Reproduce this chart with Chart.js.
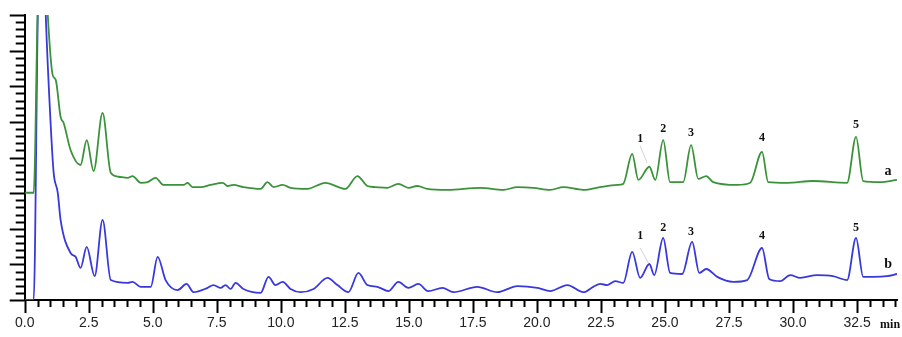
<!DOCTYPE html>
<html>
<head>
<meta charset="utf-8">
<script src="https://cdn.jsdelivr.net/npm/chart.js@4/dist/chart.umd.min.js"></script>
<style>
  html, body { margin: 0; padding: 0; background: #fff; }
  #wrap { width: 902px; height: 337px; }
</style>
</head>
<body>
<div id="wrap"><canvas id="chart" width="902" height="337"></canvas></div>
<script>
// retention time (min) and detector response for trace a (green)
const greenTimes = [0, 0.35, 0.50, 0.65, 0.90, 1.09, 1.21, 1.40, 1.52, 1.79, 2.18, 2.42, 2.69, 3.04, 3.36, 3.67, 4.02, 4.21, 4.53, 4.80,
  5.11, 5.42, 6.20, 6.36, 6.55, 6.87, 7.26, 7.73, 7.92, 8.15, 8.54, 9.21, 9.48, 9.72, 10.07, 10.38, 11.04, 11.74, 12.52, 12.99,
  13.38, 13.69, 14.16, 14.59, 14.98, 15.33, 15.72, 16.50, 17.79, 18.69, 19.24, 19.86, 20.52, 21.03, 21.81, 22.47, 23.14, 23.37, 23.72, 23.96,
  24.39, 24.62, 24.93, 25.20, 25.71, 26.02, 26.30, 26.61, 26.88, 27.82, 28.33, 28.79, 29.03, 29.77, 30.78, 32.11, 32.46, 32.74, 33.40, 34.06];
const greenValues = [3.01, 3.01, 8.0, 12.0, 8.0, 6.32, 6.18, 5.14, 4.97, 4.21, 3.79, 4.49, 3.62, 5.25, 3.57, 3.46, 3.43, 3.48, 3.29, 3.31,
  3.43, 3.23, 3.23, 3.29, 3.17, 3.17, 3.23, 3.29, 3.20, 3.23, 3.17, 3.12, 3.31, 3.17, 3.23, 3.15, 3.12, 3.29, 3.12, 3.48,
  3.20, 3.17, 3.15, 3.26, 3.15, 3.20, 3.12, 3.09, 3.15, 3.09, 3.17, 3.15, 3.09, 3.17, 3.09, 3.17, 3.23, 3.26, 4.10, 3.37,
  3.74, 3.37, 4.49, 3.31, 3.31, 4.35, 3.40, 3.48, 3.31, 3.23, 3.29, 4.16, 3.31, 3.29, 3.34, 3.29, 4.58, 3.34, 3.31, 3.37];

// trace b (blue)
const blueTimes = [0, 0.35, 0.51, 0.65, 0.82, 1.01, 1.13, 1.29, 1.40, 1.79, 1.99, 2.18, 2.42, 2.73, 3.04, 3.36, 4.02, 4.21, 4.53, 4.92,
  5.19, 5.50, 5.97, 6.32, 6.59, 7.14, 7.37, 7.65, 7.84, 8.04, 8.23, 8.54, 9.21, 9.52, 9.79, 10.07, 10.38, 10.77, 11.28, 11.82,
  12.21, 12.64, 13.03, 13.38, 13.77, 14.20, 14.59, 14.98, 15.37, 15.76, 16.31, 16.74, 17.67, 18.45, 19.24, 20.02, 20.52, 21.19, 21.81, 22.20,
  22.47, 22.75, 23.06, 23.37, 23.72, 24.03, 24.39, 24.58, 24.93, 25.20, 25.67, 26.06, 26.34, 26.61, 27.04, 27.66, 28.21, 28.79, 29.07, 29.50,
  29.89, 30.28, 30.94, 31.56, 32.11, 32.46, 32.74, 33.13, 33.67, 34.06];
const blueValues = [0, 0, 8.0, 12.0, 8.0, 4.97, 3.57, 3.01, 2.25, 1.32, 1.21, 0.90, 1.49, 0.67, 2.25, 0.56, 0.48, 0.51, 0.37, 0.37,
  1.21, 0.56, 0.28, 0.45, 0.22, 0.34, 0.42, 0.34, 0.42, 0.31, 0.48, 0.31, 0.20, 0.65, 0.42, 0.51, 0.31, 0.22, 0.31, 0.62,
  0.42, 0.22, 0.76, 0.42, 0.37, 0.25, 0.51, 0.34, 0.45, 0.25, 0.34, 0.22, 0.37, 0.22, 0.39, 0.34, 0.25, 0.42, 0.22, 0.37,
  0.45, 0.42, 0.53, 0.48, 1.35, 0.62, 1.01, 0.70, 1.74, 0.76, 0.73, 1.63, 0.76, 0.87, 0.65, 0.51, 0.56, 1.46, 0.59, 0.53,
  0.70, 0.62, 0.70, 0.67, 0.56, 1.74, 0.65, 0.65, 0.67, 0.73];

// axis ticks
const xTickValues = [0, 2.5, 5, 7.5, 10, 12.5, 15, 17.5, 20, 22.5, 25, 27.5, 30, 32.5];
const xTickLabels = ['0.0', '2.5', '5.0', '7.5', '10.0', '12.5', '15.0', '17.5', '20.0', '22.5', '25.0', '27.5', '30.0', '32.5'];
const xMax = 34.06;
const yMax = 8;

// peak numbering
const peakNames = ['1', '2', '3', '4', '5'];
const peakLabelTimes = [24.03, 24.93, 26.02, 28.79, 32.46];
const peakLabelA = [4.52, 4.80, 4.69, 4.55, 4.92];
const peakLabelB = [1.80, 2.02, 1.91, 1.80, 2.02];
const traceNames = ['a', 'b'];
const traceLabelTime = 33.71;
const traceLabelValues = [3.60, 1.01];
// faint leader line from the "1" labels
const leaderA = [[24.03, 4.33], [24.30, 3.85]];
const leaderB = [[24.03, 1.46], [24.35, 1.04]];

const GREEN = '#3a933a';
const BLUE = '#3838dc';

function toPoints(ts, vs) {
    return ts.map((t, i) => ({ x: t, y: vs[i] }));
}

// hand-drawn style tick marks and annotations
const decorPlugin = {
    id: 'decor',
    afterDraw(chart) {
        const ctx = chart.ctx;
        const xs = chart.scales.x;
        const ys = chart.scales.y;
        const area = chart.chartArea;
        ctx.save();
        ctx.strokeStyle = '#000';
        ctx.lineWidth = 2;

        // x ticks every 0.5 min, long ones every 2.5
        for (let i = 0; i <= Math.floor(xMax * 2); i++) {
            const v = i / 2;
            const px = Math.round(xs.getPixelForValue(v)) + 0.5;
            const len = (i % 5 === 0) ? 13 : 7;
            ctx.beginPath();
            ctx.moveTo(px, area.bottom);
            ctx.lineTo(px, area.bottom + len);
            ctx.stroke();
        }
        // y ticks every 0.2, long ones every 1
        for (let i = 0; i <= yMax * 5; i++) {
            const v = i / 5;
            const py = Math.round(ys.getPixelForValue(v)) + 0.5;
            const len = (i % 5 === 0) ? 15 : 9;
            ctx.beginPath();
            ctx.moveTo(area.left, py);
            ctx.lineTo(area.left - len, py);
            ctx.stroke();
        }

        // leader lines
        ctx.strokeStyle = '#c8c8c8';
        ctx.lineWidth = 0.8;
        [leaderA, leaderB].forEach(l => {
            ctx.beginPath();
            ctx.moveTo(xs.getPixelForValue(l[0][0]), ys.getPixelForValue(l[0][1]));
            ctx.lineTo(xs.getPixelForValue(l[1][0]), ys.getPixelForValue(l[1][1]));
            ctx.stroke();
        });

        // peak numbers
        ctx.fillStyle = '#111';
        ctx.textAlign = 'center';
        ctx.textBaseline = 'middle';
        ctx.font = 'bold 12px "Liberation Serif", "DejaVu Serif", serif';
        peakNames.forEach((n, i) => {
            const px = xs.getPixelForValue(peakLabelTimes[i]);
            ctx.fillText(n, px, ys.getPixelForValue(peakLabelA[i]));
            ctx.fillText(n, px, ys.getPixelForValue(peakLabelB[i]));
        });

        // trace names
        ctx.font = 'bold 14px "Liberation Serif", "DejaVu Serif", serif';
        traceNames.forEach((n, i) => {
            ctx.fillText(n, xs.getPixelForValue(traceLabelTime), ys.getPixelForValue(traceLabelValues[i]));
        });

        // unit after the last tick label
        ctx.textAlign = 'left';
        ctx.font = 'bold 12px "Liberation Serif", "DejaVu Serif", serif';
        ctx.fillText('min', xs.getPixelForValue(32.5) + 23, area.bottom + 25);
        ctx.restore();
    }
};

const ctx = document.getElementById('chart').getContext('2d');
const chart = new Chart(ctx, {
    type: 'line',
    data: {
        datasets: [{
            label: 'a',
            data: toPoints(greenTimes, greenValues),
            borderColor: GREEN,
            borderWidth: 1.8,
            pointRadius: 0,
            fill: false,
            cubicInterpolationMode: 'monotone'
        }, {
            label: 'b',
            data: toPoints(blueTimes, blueValues),
            borderColor: BLUE,
            borderWidth: 1.8,
            pointRadius: 0,
            fill: false,
            cubicInterpolationMode: 'monotone'
        }]
    },
    options: {
        responsive: false,
        animation: false,
        layout: { padding: { top: 15, right: 5, left: 0, bottom: 0 } },
        plugins: {
            legend: { display: false },
            tooltip: { enabled: false }
        },
        scales: {
            x: {
                type: 'linear',
                min: 0,
                max: xMax,
                grid: { display: false, drawTicks: false },
                border: { display: true, color: '#000', width: 2 },
                afterBuildTicks: s => { s.ticks = xTickValues.map(v => ({ value: v })); },
                afterFit: s => { s.height = 37; },
                ticks: {
                    padding: 15,
                    maxRotation: 0,
                    autoSkip: false,
                    color: '#222',
                    font: { family: '"Liberation Sans", Arial, sans-serif', size: 14 },
                    callback: (v, i) => xTickLabels[i]
                }
            },
            y: {
                type: 'linear',
                min: 0,
                max: yMax,
                grid: { display: false, drawTicks: false },
                border: { display: true, color: '#000', width: 2 },
                ticks: { display: false },
                afterFit: s => { s.width = 24; }
            }
        }
    },
    plugins: [decorPlugin]
});
</script>
</body>
</html>
